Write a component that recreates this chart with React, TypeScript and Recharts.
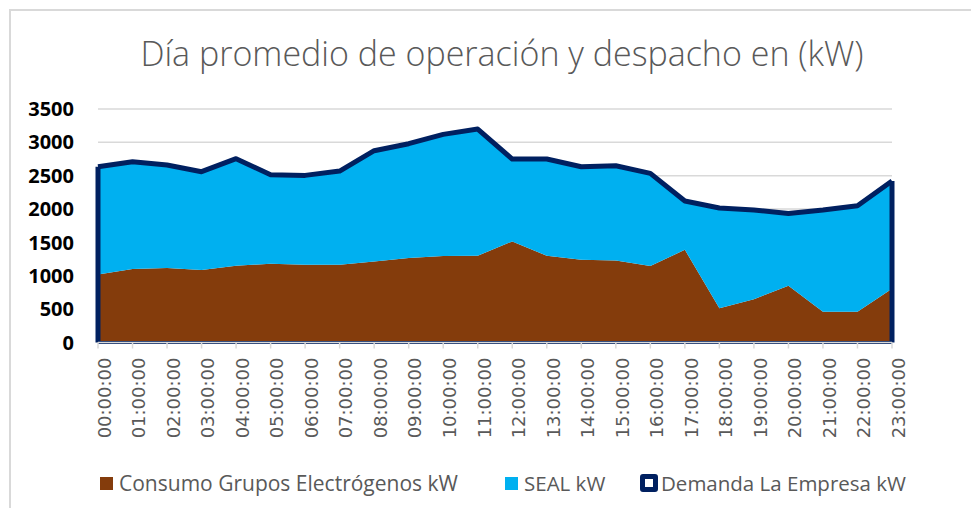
import React from 'react';
import { AreaChart, Area, XAxis, YAxis, CartesianGrid, Legend, ReferenceLine } from 'recharts';

const hours = [
  '00:00:00', '01:00:00', '02:00:00', '03:00:00', '04:00:00', '05:00:00',
  '06:00:00', '07:00:00', '08:00:00', '09:00:00', '10:00:00', '11:00:00',
  '12:00:00', '13:00:00', '14:00:00', '15:00:00', '16:00:00', '17:00:00',
  '18:00:00', '19:00:00', '20:00:00', '21:00:00', '22:00:00', '23:00:00',
];

const consumo = [1020, 1100, 1115, 1085, 1150, 1180, 1165, 1165, 1215, 1265, 1295, 1300,
  1515, 1300, 1240, 1230, 1145, 1390, 515, 650, 850, 460, 460, 805];

const seal = [1615, 1610, 1545, 1475, 1605, 1335, 1340, 1405, 1660, 1715, 1825, 1900,
  1235, 1450, 1395, 1420, 1390, 730, 1500, 1335, 1085, 1525, 1590, 1615];

const demanda = [2635, 2710, 2660, 2560, 2755, 2515, 2505, 2570, 2875, 2980, 3120, 3200,
  2750, 2750, 2635, 2650, 2535, 2120, 2015, 1985, 1935, 1985, 2050, 2420];

const yTicks = [0, 500, 1000, 1500, 2000, 2500, 3000, 3500];

const title = 'Día promedio de operación y despacho en (kW)';

const seriesNames = ['Consumo Grupos Electrógenos kW', 'SEAL kW', 'Demanda La Empresa kW'];
const seriesColors = ['#843C0C', '#00B0F0', '#002060'];

const data = hours.map((h, i) => ({
  hora: h,
  consumo: consumo[i],
  seal: seal[i],
  demanda: demanda[i],
}));

const W = 963;
const H = 500;
const legendLefts = [92, 497, 632];

const renderLegend = () => (
  <div style={{ position: 'relative', width: W, height: 28 }}>
    {seriesNames.map((name, i) => (
      <div
        key={name}
        style={{
          position: 'absolute',
          left: legendLefts[i],
          top: 0,
          height: 28,
          display: 'flex',
          alignItems: 'center',
          whiteSpace: 'nowrap',
        }}
      >
        {i < 2 ? (
          <span style={{ display: 'inline-block', width: 13, height: 13, background: seriesColors[i], marginRight: 6 }} />
        ) : (
          <span
            style={{
              display: 'inline-block',
              width: 18,
              height: 18,
              boxSizing: 'border-box',
              border: `5.5px solid ${seriesColors[i]}`,
              borderRadius: 3,
              background: '#fff',
              marginRight: 3,
            }}
          />
        )}
        <span style={{ fontFamily: '"Open Sans", sans-serif', fontSize: i === 0 ? 21 : 20.5, color: '#595959' }}>{name}</span>
      </div>
    ))}
  </div>
);

export default function App() {
  return (
    <div style={{ position: 'relative', width: W, height: H }}>
      <div
        style={{
          position: 'absolute',
          left: 1,
          top: 1,
          width: W,
          height: H,
          boxSizing: 'border-box',
          borderLeft: '2px solid #d9d9d9',
          borderTop: '2px solid #d9d9d9',
        }}
      />
      <svg width={W} height={80} style={{ position: 'absolute', left: 0, top: 0 }}>
        <text
          x={494}
          y={58}
          textAnchor="middle"
          fontFamily='"Open Sans", sans-serif'
          fontSize={34}
          fontWeight={300}
          fill="#595959"
        >
          {title}
        </text>
      </svg>
      <div style={{ position: 'absolute', left: 0, top: 0 }}>
        <AreaChart
          width={W}
          height={H}
          data={data}
          margin={{ top: 101, right: 79, left: 0, bottom: 55.5 }}
        >
          <CartesianGrid horizontal vertical={false} stroke="#d9d9d9" strokeWidth={1.5} />
          <XAxis
            dataKey="hora"
            interval={0}
            height={110}
            angle={-90}
            textAnchor="end"
            tickMargin={9}
            tickSize={6}
            stroke="#d9d9d9"
            strokeWidth={1.5}
            tick={{ fill: '#595959', fontSize: 18, fontFamily: '"DejaVu Sans", sans-serif' }}
          />
          <YAxis
            domain={[0, 3500]}
            ticks={yTicks}
            width={90}
            axisLine={false}
            tickLine={false}
            tickSize={6}
            tickMargin={18}
            tick={{ fill: '#000', fontSize: 20, fontWeight: 700, fontFamily: '"Open Sans", sans-serif' }}
          />
          <Area
            type="linear"
            dataKey="consumo"
            name={seriesNames[0]}
            stackId="a"
            fill={seriesColors[0]}
            fillOpacity={1}
            stroke="none"
            isAnimationActive={false}
          />
          <Area
            type="linear"
            dataKey="seal"
            name={seriesNames[1]}
            stackId="a"
            fill={seriesColors[1]}
            fillOpacity={1}
            stroke="none"
            isAnimationActive={false}
          />
          <Area
            type="linear"
            dataKey="demanda"
            name={seriesNames[2]}
            fill="none"
            stroke={seriesColors[2]}
            strokeWidth={5}
            strokeLinejoin="round"
            isAnimationActive={false}
          />
          <ReferenceLine
            segment={[{ x: hours[0], y: 0 }, { x: hours[0], y: demanda[0] }]}
            stroke={seriesColors[2]}
            strokeWidth={5}
            ifOverflow="visible"
          />
          <ReferenceLine
            segment={[{ x: hours[23], y: 0 }, { x: hours[23], y: demanda[23] }]}
            stroke={seriesColors[2]}
            strokeWidth={5}
            ifOverflow="visible"
          />
          <ReferenceLine
            segment={[{ x: hours[0], y: 0 }, { x: hours[23], y: 0 }]}
            stroke={seriesColors[2]}
            strokeWidth={3}
            ifOverflow="visible"
          />
          <Legend
            layout="horizontal"
            verticalAlign="middle"
            align="center"
            content={renderLegend}
            wrapperStyle={{ top: 461, left: 0, width: W, height: 28 }}
          />
        </AreaChart>
      </div>
    </div>
  );
}
